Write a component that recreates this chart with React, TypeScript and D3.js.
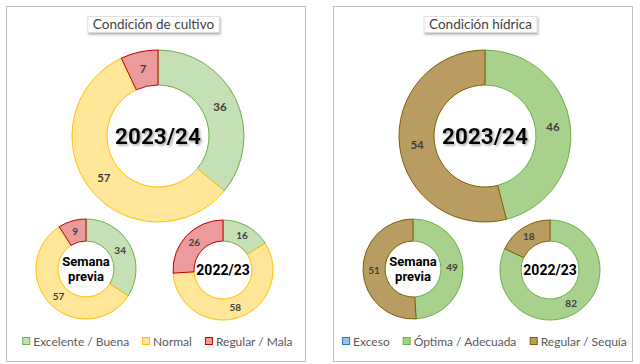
import React from 'react';
import * as d3 from 'd3';

const W = 640;
const H = 364;

// Condición de cultivo (%)
const cultivoCategorias = ['Excelente / Buena', 'Normal', 'Regular / Mala'];
const cultivo2324 = [36, 57, 7];
const cultivoPrevia = [34, 57, 9];
const cultivo2223 = [16, 58, 26];

// Condición hídrica (%)
const hidricaCategorias = ['Exceso', 'Óptima / Adecuada', 'Regular / Sequía'];
const hidrica2324 = [0, 46, 54];
const hidricaPrevia = [0, 49, 51];
const hidrica2223 = [0, 82, 18];

const cultivoColores = [
    { fill: '#c5e0b4', stroke: '#70ad47' },
    { fill: '#ffe699', stroke: '#ffc000' },
    { fill: '#ec9a9c', stroke: '#c00000' },
];
const hidricaColores = [
    { fill: '#9dc3e6', stroke: '#2e75b6' },
    { fill: '#a9d18e', stroke: '#70ad47' },
    { fill: '#b99c62', stroke: '#7f6000' },
];

const panels = [
    { x: 6, title: 'Condición de cultivo', cats: cultivoCategorias, colors: cultivoColores, series: [cultivo2324, cultivoPrevia, cultivo2223] },
    { x: 333, title: 'Condición hídrica', cats: hidricaCategorias, colors: hidricaColores, series: [hidrica2324, hidricaPrevia, hidrica2223] },
];

const donutLabels = [['2023/24'], ['Semana', 'previa'], ['2022/23']];

// layout for the three donuts inside a panel
const donutSpots = [
    { cx: 152, cy: 130, ro: 86, ri: 51, font: 22.5, lh: 0, valFont: 11.5 },
    { cx: 80, cy: 263, ro: 50, ri: 28, font: 13, lh: 15, valFont: 10 },
    { cx: 217, cy: 264, ro: 50, ri: 29, font: 14, lh: 0, valFont: 10 },
];

const CENTER_FONT = "Roboto, 'DejaVu Sans', sans-serif";
const LEGEND_SIZE = 12;
let ctx: CanvasRenderingContext2D | null = null;
const measure = (t: string, font: string) => {
    if (!ctx) ctx = document.createElement('canvas').getContext('2d');
    if (!ctx) return t.length * 6.2;
    ctx.font = font;
    return ctx.measureText(t).width;
};

function Donut({ values, colors, spot, label }) {
    const pie = d3.pie<number>().sort(null).value(d => d);
    const arcs = pie(values);
    const arc = d3.arc<d3.PieArcDatum<number>>().innerRadius(spot.ri).outerRadius(spot.ro);
    const mid = (spot.ri + spot.ro) / 2;
    const labelArc = d3.arc<d3.PieArcDatum<number>>().innerRadius(mid).outerRadius(mid);
    return (
        <g transform={`translate(${spot.cx},${spot.cy})`}>
            {arcs.map((a, i) => a.value > 0 && (
                <path key={i} d={arc(a) || ''} fill={colors[i].fill} stroke={colors[i].stroke} strokeWidth={1} />
            ))}
            {arcs.map((a, i) => {
                if (a.value <= 0) return null;
                const [x, y] = labelArc.centroid(a);
                return (
                    <text key={'v' + i} x={x} y={y} dy="0.35em" textAnchor="middle"
                        fontFamily="Lato, 'Open Sans', sans-serif" fontWeight="bold"
                        fontSize={spot.valFont} fill="#404040">{a.value}</text>
                );
            })}
            {label.map((t, j) => (
                <text key={'c' + j} x={0} y={(j - (label.length - 1) / 2) * spot.lh} dy="0.36em" textAnchor="middle"
                    fontFamily={CENTER_FONT} fontWeight="bold"
                    fontSize={spot.font} fill="#000"
                    filter={spot.font > 20 ? 'url(#txtShadow)' : undefined}>{t}</text>
            ))}
        </g>
    );
}

function Legend({ cats, colors, cx, y }) {
    const sw = 7, gapIcon = 4, gapItem = 13;
    const widths = cats.map(c => sw + gapIcon + measure(c, `${LEGEND_SIZE}px Lato`));
    const total = d3.sum(widths) + gapItem * (cats.length - 1);
    let x = cx - total / 2;
    return (
        <g>
            {cats.map((c, i) => {
                const x0 = x;
                x += widths[i] + gapItem;
                return (
                    <g key={c} transform={`translate(${x0},${y})`}>
                        <rect x={0.5} y={-4.5} width={sw} height={sw} fill={colors[i].fill} stroke={colors[i].stroke} strokeWidth={1} />
                        <text x={sw + gapIcon} y={0} dy="0.35em" fontFamily="Lato, sans-serif" fontSize={LEGEND_SIZE} fill="#595959">{c}</text>
                    </g>
                );
            })}
        </g>
    );
}

export default function App() {
    const pw = 299, ph = 355;
    return (
        <svg width={W} height={H} style={{ position: 'absolute', left: 0, top: 0, background: '#fff' }}>
            <defs>
                <filter id="txtShadow" x="-20%" y="-30%" width="140%" height="160%">
                    <feDropShadow dx="1.5" dy="1.5" stdDeviation="1" floodColor="#7f7f7f" floodOpacity="0.7" />
                </filter>
                <filter id="boxShadow" x="-10%" y="-30%" width="130%" height="180%">
                    <feDropShadow dx="1" dy="1.5" stdDeviation="1" floodColor="#000" floodOpacity="0.35" />
                </filter>
            </defs>
            {panels.map(p => {
                const cx = pw / 2;
                const tw = measure(p.title, '13.5px Lato') + 10;
                return (
                    <g key={p.title} transform={`translate(${p.x},6)`}>
                        <rect x={0.5} y={0.5} width={pw} height={ph} fill="#fff" stroke="#bfbfbf" strokeWidth={1} />
                        <rect x={cx - tw / 2 - 2} y={10.5} width={tw} height={16} fill="#fff" stroke="#d9d9d9" strokeWidth={0.8} filter="url(#boxShadow)" />
                        <text x={cx - 2} y={18.5} dy="0.35em" textAnchor="middle" fontFamily="Lato, sans-serif" fontSize={13.5} fill="#404040">{p.title}</text>
                        {p.series.map((vals, k) => (
                            <Donut key={k} values={vals} colors={p.colors} spot={donutSpots[k]} label={donutLabels[k]} />
                        ))}
                        <Legend cats={p.cats} colors={p.colors} cx={cx + 2} y={336} />
                    </g>
                );
            })}
        </svg>
    );
}
